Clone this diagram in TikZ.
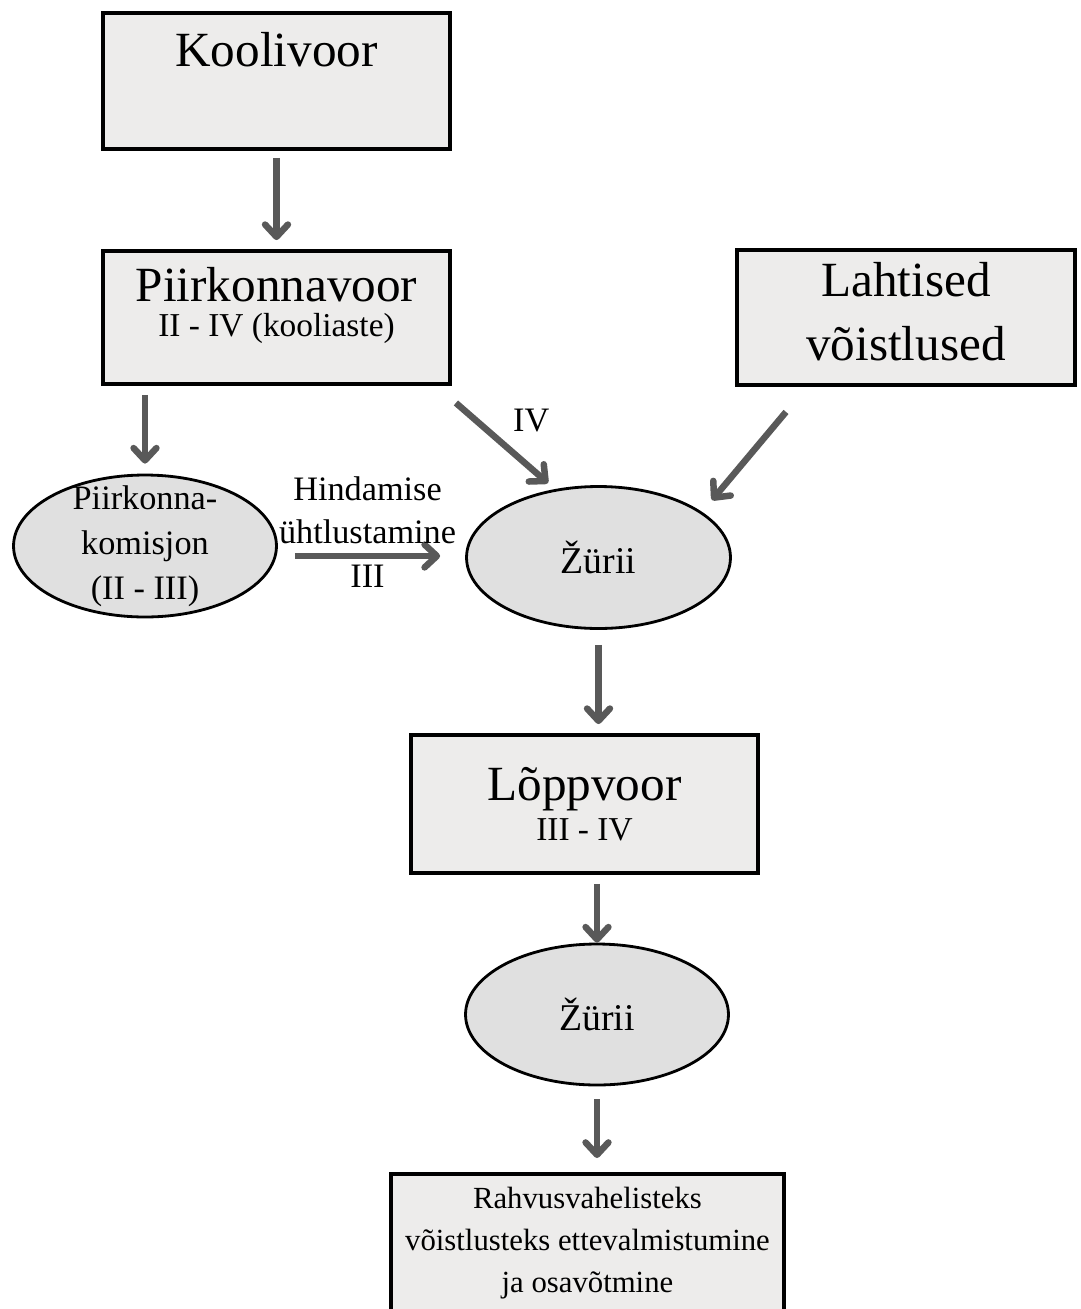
\documentclass[tikz,border=0pt]{standalone}
\usepackage{fontspec}
\setmainfont{Liberation Serif}
\usepackage{xcolor}
\usetikzlibrary{arrows.meta,positioning,calc,shapes.geometric}

\definecolor{boxgray}{HTML}{EDECEB}
\definecolor{ellgray}{HTML}{E0E0E0}
\definecolor{arrowgray}{HTML}{595959}

\begin{document}
\begin{tikzpicture}[
  x=0.02cm, y=-0.02cm,
  stage/.style={draw, line width=2.2pt, fill=boxgray, align=center, inner sep=0pt, font=\fontsize{28}{36}\selectfont},
  jury/.style={ellipse, draw, line width=1.6pt, fill=ellgray, align=center, inner sep=0pt, font=\fontsize{21.5}{25.5}\selectfont},
  flow/.style={draw=arrowgray, line width=3.7pt, -{Straight Barb[length=7pt,width=13pt,round]}},
  lbl/.style={font=\fontsize{19.5}{24.5}\selectfont, align=center, inner sep=1pt}
]
  \path[use as bounding box, clip] (0,0) rectangle (1080,1309);

  % Stages
  \node[stage, minimum width=6.94cm, minimum height=2.72cm] (koolivoor) at (276.5,81) {Koolivoor\\ \mbox{}};
  \node[stage, minimum width=6.94cm, minimum height=2.66cm] (piirk) at (276.5,317.5) {Piirkonnavoor\\[-16pt]{\fontsize{19}{24}\selectfont II - IV (kooliaste)}\\[-18pt]\mbox{}};
  \node[stage, minimum width=6.76cm, minimum height=2.7cm] (lahtised) at (906,317.5) {Lahtised\\võistlused\\[-29pt]\mbox{}};

  % Committees
  \node[jury, font=\fontsize{19.5}{25.5}\selectfont, inner ysep=-10pt, minimum width=5.26cm, minimum height=2.84cm] (komisjon) at (145,546) {Piirkonna-\\komisjon\\(II - III)};
  \node[jury, minimum width=5.28cm, minimum height=2.84cm] (zurii1) at (598.5,557.5) {Žürii};

  % Final
  \node[stage, minimum width=6.94cm, minimum height=2.76cm] (loppvoor) at (584.5,804) {Lõppvoor\\[-13pt]{\fontsize{19}{24}\selectfont III - IV}};
  \node[jury, minimum width=5.26cm, minimum height=2.82cm] (zurii2) at (597,1014.5) {Žürii};
  \node[stage, anchor=north, font=\fontsize{17.5}{24}\selectfont, minimum width=7.86cm, minimum height=3.48cm] (rahvus) at (587.5,1172) {Rahvusvahelisteks\\võistlusteks ettevalmistumine\\ja osavõtmine\\ \mbox{}};

  % Arrows
  \draw[flow, shorten <=0.14cm, shorten >=0.18cm] (koolivoor.south) -- (piirk.north);
  \draw[flow, shorten <=0.18cm, shorten >=0.2cm] (piirk.south -| komisjon.north) -- (komisjon.north);
  \draw[flow] ([shift={(4,17)}]piirk.south east) -- node[lbl, above right=5pt] {IV} ([shift={(-50.5,-2)}]zurii1.north);
  \draw[flow] ([shift={(-120,25)}]lahtised.south) -- ([shift={(113.5,15)}]zurii1.north);
  \draw[flow] ([shift={(17,10)}]komisjon.east) -- node[lbl, above=5pt, inner sep=0pt] {Hindamise\\ühtlustamine} node[lbl, below=2.5pt] {III} ([shift={(-25,-1.5)}]zurii1.west);

  \draw[flow, shorten <=0.3cm, shorten >=0.18cm] (zurii1.south) -- (zurii1.south |- loppvoor.north);
  \draw[flow, shorten <=0.18cm] (loppvoor.south -| zurii2.north) -- (zurii2.north);
  \draw[flow, shorten <=0.26cm, shorten >=0.28cm] (zurii2.south) -- (zurii2.south |- rahvus.north);
\end{tikzpicture}
\end{document}
